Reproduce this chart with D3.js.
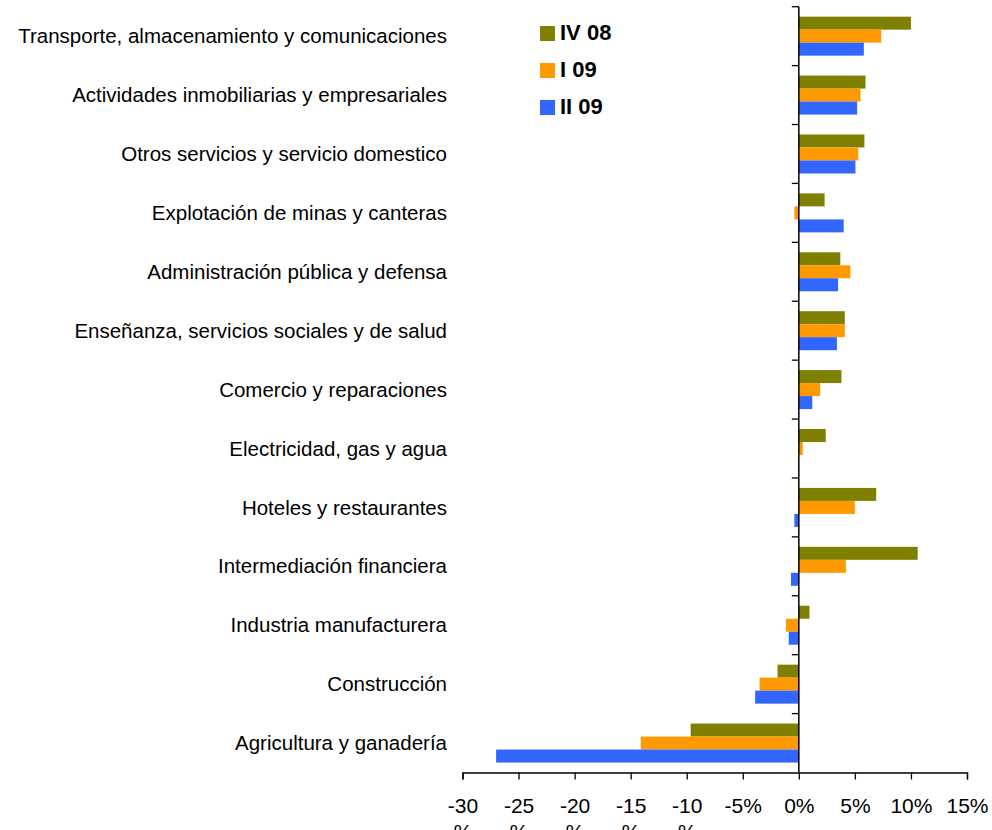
<!DOCTYPE html>
<html>
<head>
<meta charset="utf-8">
<script src="https://cdn.jsdelivr.net/npm/d3@7/dist/d3.min.js"></script>
<style>
  html, body { margin: 0; padding: 0; background: #fff; }
  svg { display: block; font-family: "Liberation Sans", Arial, sans-serif; }
</style>
</head>
<body>
<svg id="chart" width="992" height="830"></svg>
<script>
const categories = [
  "Transporte, almacenamiento y comunicaciones",
  "Actividades inmobiliarias y empresariales",
  "Otros servicios y servicio domestico",
  "Explotación de minas y canteras",
  "Administración pública y defensa",
  "Enseñanza, servicios sociales y de salud",
  "Comercio y reparaciones",
  "Electricidad, gas y agua",
  "Hoteles y restaurantes",
  "Intermediación financiera",
  "Industria manufacturera",
  "Construcción",
  "Agricultura y ganadería"
];
const seriesNames = ["IV 08", "I 09", "II 09"];
const seriesColors = ["#808000", "#FF9900", "#3366FF"];
const valuesIV08 = [10.0, 5.95, 5.85, 2.3, 3.7, 4.1, 3.8, 2.4, 6.9, 10.6, 0.95, -1.9, -9.65];
const valuesI09  = [7.35, 5.5, 5.3, -0.4, 4.6, 4.1, 1.9, 0.35, 5.0, 4.2, -1.15, -3.5, -14.1];
const valuesII09 = [5.8, 5.2, 5.05, 4.0, 3.5, 3.4, 1.2, 0.0, -0.4, -0.7, -0.9, -3.9, -27.0];
const xTicks = [-30, -25, -20, -15, -10, -5, 0, 5, 10, 15];

const seriesValues = [valuesIV08, valuesI09, valuesII09];

const svg = d3.select("#chart");
const plot = { left: 462.5, right: 967, top: 6.7, bottom: 772.5 };

const x = d3.scaleLinear().domain([-30, 15]).range([plot.left, plot.right]);
const y = d3.scaleBand().domain(categories).range([plot.top, plot.bottom]).paddingInner(0).paddingOuter(0);
const barH = 13;
const groupOffset = (y.bandwidth() - barH * 3) / 2;

// bars
const g = svg.append("g");
categories.forEach((c, i) => {
  seriesValues.forEach((vals, s) => {
    const v = vals[i];
    if (v === 0) return;
    g.append("rect")
      .attr("x", Math.min(x(0), x(v)))
      .attr("width", Math.abs(x(v) - x(0)))
      .attr("y", y(c) + groupOffset + s * barH)
      .attr("height", barH)
      .attr("fill", seriesColors[s]);
  });
});

// x axis
const xAxis = d3.axisBottom(x).tickValues(xTicks).tickSize(7).tickFormat(d => d + "%");
const xg = svg.append("g").attr("transform", `translate(0,${plot.bottom})`).call(xAxis);
xg.select(".domain").attr("stroke", "#000").attr("stroke-width", 1.3);
xg.selectAll(".tick line").attr("stroke", "#000").attr("stroke-width", 1.3);
xg.selectAll(".tick text").each(function(d) {
  const t = d3.select(this);
  t.text(null).attr("font-size", 21).attr("fill", "#000").attr("y", 0).attr("dy", null)
    .attr("font-family", "Liberation Sans, Arial, sans-serif");
  if (d <= -10) {
    t.append("tspan").attr("x", 0).attr("y", 40.5).text(d);
    t.append("tspan").attr("x", 0).attr("y", 66).text("%");
  } else {
    t.append("tspan").attr("x", 0).attr("y", 40.5).text(d + "%");
  }
});

// y axis line at zero with boundary ticks
svg.append("line")
  .attr("x1", x(0)).attr("x2", x(0))
  .attr("y1", plot.top).attr("y2", plot.bottom)
  .attr("stroke", "#000").attr("stroke-width", 1.5);
categories.forEach(c => {
  svg.append("line")
    .attr("x1", x(0) - 7).attr("x2", x(0))
    .attr("y1", y(c)).attr("y2", y(c))
    .attr("stroke", "#000").attr("stroke-width", 1.3);
});

// category labels
svg.append("g").selectAll("text").data(categories).join("text")
  .attr("x", 447)
  .attr("y", d => y(d) + y.bandwidth() / 2)
  .attr("dy", "0.35em")
  .attr("text-anchor", "end")
  .attr("font-size", 20.5)
  .attr("fill", "#000")
  .text(d => d);

// legend
const lg = svg.append("g");
seriesNames.forEach((n, i) => {
  const yy = 26 + i * 37;
  lg.append("rect").attr("x", 540).attr("y", yy).attr("width", 15).attr("height", 15).attr("fill", seriesColors[i]);
  lg.append("text").attr("x", 560).attr("y", yy + 14)
    .attr("font-size", 22).attr("font-weight", "bold").attr("fill", "#000").text(n);
});
</script>
</body>
</html>
